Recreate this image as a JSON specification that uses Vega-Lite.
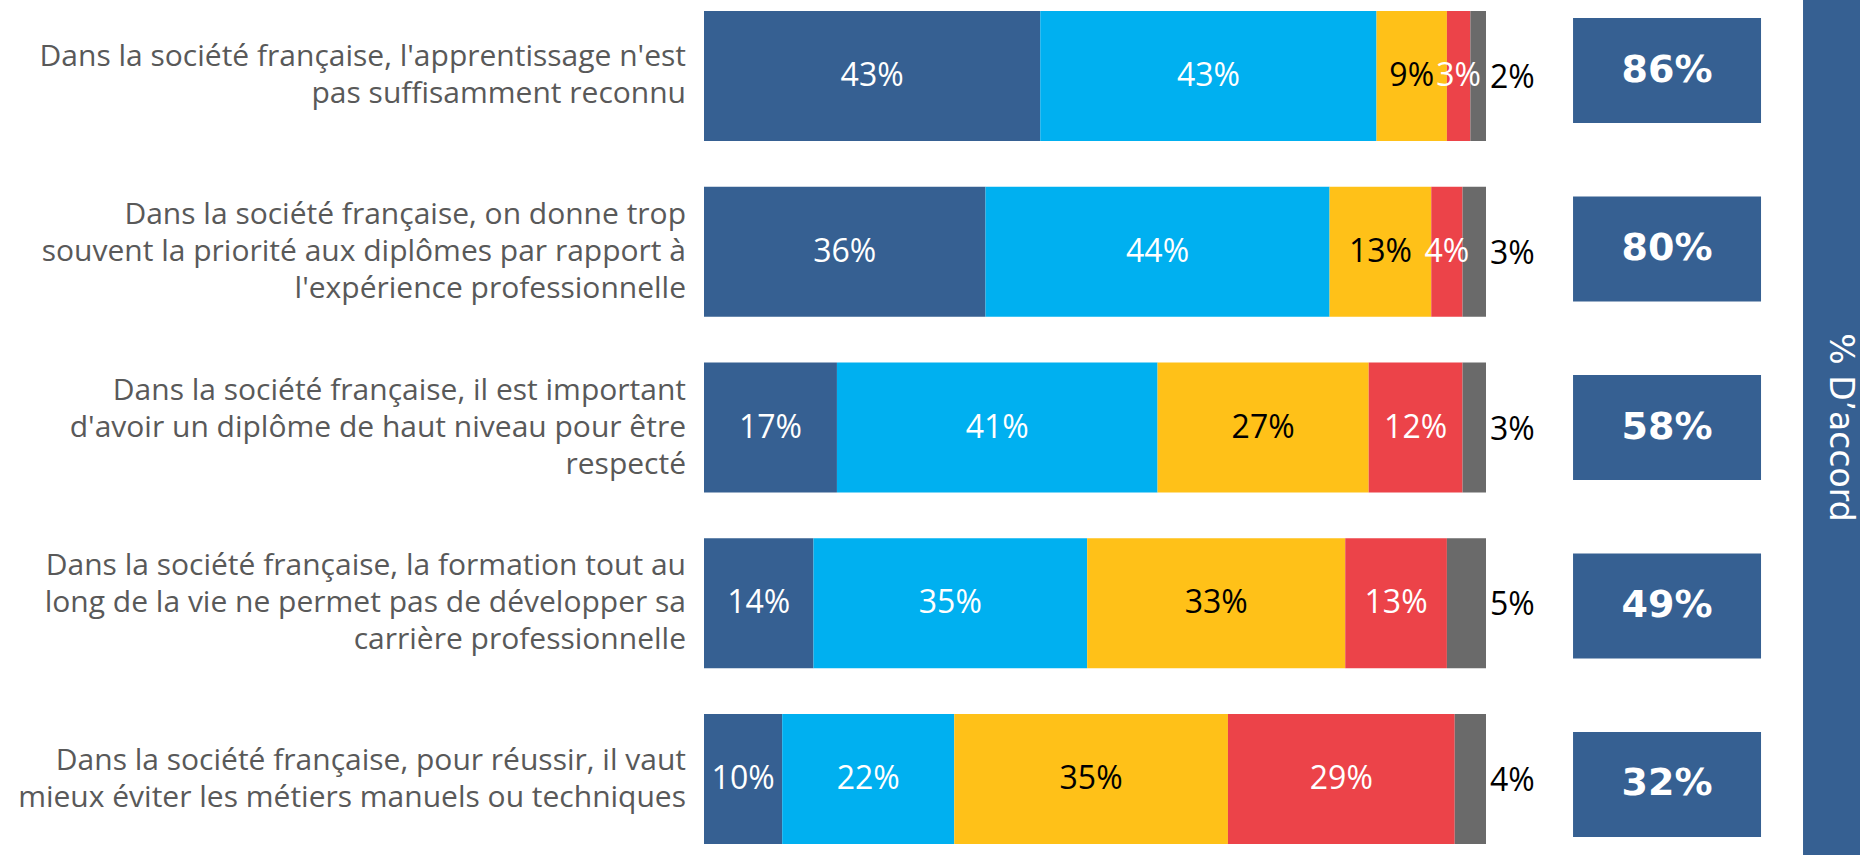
{
  "$schema": "https://vega.github.io/schema/vega-lite/v6.json",
  "width": 1860,
  "height": 855,
  "autosize": {"type": "fit", "contains": "padding"},
  "padding": 0,
  "background": "white",
  "config": {"view": {"stroke": null}},
  "datasets": {
    "seg": [
      {"id": 1, "q": "Dans la société française, l'apprentissage n'est\npas suffisamment reconnu", "cat": "Tout à fait d’accord", "o": 1, "v": 0.43},
      {"id": 1, "q": "Dans la société française, l'apprentissage n'est\npas suffisamment reconnu", "cat": "Plutôt d’accord", "o": 2, "v": 0.43},
      {"id": 1, "q": "Dans la société française, l'apprentissage n'est\npas suffisamment reconnu", "cat": "Plutôt pas d’accord", "o": 3, "v": 0.09},
      {"id": 1, "q": "Dans la société française, l'apprentissage n'est\npas suffisamment reconnu", "cat": "Pas du tout d’accord", "o": 4, "v": 0.03},
      {"id": 1, "q": "Dans la société française, l'apprentissage n'est\npas suffisamment reconnu", "cat": "Ne se prononce pas", "o": 5, "v": 0.02},
      {"id": 2, "q": "Dans la société française, on donne trop\nsouvent la priorité aux diplômes par rapport à\nl'expérience professionnelle", "cat": "Tout à fait d’accord", "o": 1, "v": 0.36},
      {"id": 2, "q": "Dans la société française, on donne trop\nsouvent la priorité aux diplômes par rapport à\nl'expérience professionnelle", "cat": "Plutôt d’accord", "o": 2, "v": 0.44},
      {"id": 2, "q": "Dans la société française, on donne trop\nsouvent la priorité aux diplômes par rapport à\nl'expérience professionnelle", "cat": "Plutôt pas d’accord", "o": 3, "v": 0.13},
      {"id": 2, "q": "Dans la société française, on donne trop\nsouvent la priorité aux diplômes par rapport à\nl'expérience professionnelle", "cat": "Pas du tout d’accord", "o": 4, "v": 0.04},
      {"id": 2, "q": "Dans la société française, on donne trop\nsouvent la priorité aux diplômes par rapport à\nl'expérience professionnelle", "cat": "Ne se prononce pas", "o": 5, "v": 0.03},
      {"id": 3, "q": "Dans la société française, il est important\nd'avoir un diplôme de haut niveau pour être\nrespecté", "cat": "Tout à fait d’accord", "o": 1, "v": 0.17},
      {"id": 3, "q": "Dans la société française, il est important\nd'avoir un diplôme de haut niveau pour être\nrespecté", "cat": "Plutôt d’accord", "o": 2, "v": 0.41},
      {"id": 3, "q": "Dans la société française, il est important\nd'avoir un diplôme de haut niveau pour être\nrespecté", "cat": "Plutôt pas d’accord", "o": 3, "v": 0.27},
      {"id": 3, "q": "Dans la société française, il est important\nd'avoir un diplôme de haut niveau pour être\nrespecté", "cat": "Pas du tout d’accord", "o": 4, "v": 0.12},
      {"id": 3, "q": "Dans la société française, il est important\nd'avoir un diplôme de haut niveau pour être\nrespecté", "cat": "Ne se prononce pas", "o": 5, "v": 0.03},
      {"id": 4, "q": "Dans la société française, la formation tout au\nlong de la vie ne permet pas de développer sa\ncarrière professionnelle", "cat": "Tout à fait d’accord", "o": 1, "v": 0.14},
      {"id": 4, "q": "Dans la société française, la formation tout au\nlong de la vie ne permet pas de développer sa\ncarrière professionnelle", "cat": "Plutôt d’accord", "o": 2, "v": 0.35},
      {"id": 4, "q": "Dans la société française, la formation tout au\nlong de la vie ne permet pas de développer sa\ncarrière professionnelle", "cat": "Plutôt pas d’accord", "o": 3, "v": 0.33},
      {"id": 4, "q": "Dans la société française, la formation tout au\nlong de la vie ne permet pas de développer sa\ncarrière professionnelle", "cat": "Pas du tout d’accord", "o": 4, "v": 0.13},
      {"id": 4, "q": "Dans la société française, la formation tout au\nlong de la vie ne permet pas de développer sa\ncarrière professionnelle", "cat": "Ne se prononce pas", "o": 5, "v": 0.05},
      {"id": 5, "q": "Dans la société française, pour réussir, il vaut\nmieux éviter les métiers manuels ou techniques", "cat": "Tout à fait d’accord", "o": 1, "v": 0.10},
      {"id": 5, "q": "Dans la société française, pour réussir, il vaut\nmieux éviter les métiers manuels ou techniques", "cat": "Plutôt d’accord", "o": 2, "v": 0.22},
      {"id": 5, "q": "Dans la société française, pour réussir, il vaut\nmieux éviter les métiers manuels ou techniques", "cat": "Plutôt pas d’accord", "o": 3, "v": 0.35},
      {"id": 5, "q": "Dans la société française, pour réussir, il vaut\nmieux éviter les métiers manuels ou techniques", "cat": "Pas du tout d’accord", "o": 4, "v": 0.29},
      {"id": 5, "q": "Dans la société française, pour réussir, il vaut\nmieux éviter les métiers manuels ou techniques", "cat": "Ne se prononce pas", "o": 5, "v": 0.04}
    ],
    "side": [{"t": "% D’accord"}]
  },
  "data": {"name": "seg"},
  "resolve": {"scale": {"y": "independent"}},
  "layer": [
    {
      "mark": {"type": "bar"},
      "encoding": {
        "y": {"field": "id", "type": "ordinal", "axis": null, "scale": {"type": "band", "domain": [1, 2, 3, 4, 5], "paddingInner": 0.261, "paddingOuter": 0.0625}},
        "x": {"field": "v", "type": "quantitative", "stack": "zero", "axis": null, "scale": {"domain": [-0.90026, 1.47826], "nice": false, "zero": false}},
        "color": {"field": "cat", "type": "nominal", "legend": null,
          "scale": {"domain": ["Tout à fait d’accord", "Plutôt d’accord", "Plutôt pas d’accord", "Pas du tout d’accord", "Ne se prononce pas"],
                    "range": ["#366092", "#00B0F0", "#FFC118", "#EC4349", "#6A6A6A"]}},
        "order": {"field": "o", "type": "quantitative"}
      }
    },
    {
      "transform": [
        {"filter": "datum.o < 5"},
        {"stack": "v", "groupby": ["id"], "sort": [{"field": "o"}], "as": ["x0", "x1"]},
        {"fold": ["x0", "x1"], "as": ["k", "xv"]}
      ],
      "mark": {"type": "text", "font": "Open Sans", "fontSize": 32, "baseline": "middle", "align": "center"},
      "encoding": {
        "y": {"field": "id", "type": "ordinal", "axis": null, "scale": {"type": "band", "domain": [1, 2, 3, 4, 5], "paddingInner": 0.261, "paddingOuter": 0.0625}},
        "x": {"aggregate": "mean", "field": "xv", "type": "quantitative", "axis": null, "scale": {"domain": [-0.90026, 1.47826], "nice": false, "zero": false}},
        "detail": {"field": "cat"},
        "text": {"field": "v", "type": "quantitative", "format": ".0%"},
        "color": {"condition": {"test": "datum.cat === 'Plutôt pas d’accord'", "value": "#000000"}, "value": "#FFFFFF"}
      }
    },
    {
      "transform": [
        {"stack": "v", "groupby": ["id"], "sort": [{"field": "o"}], "as": ["x0", "x1"]},
        {"filter": "datum.o == 5"}
      ],
      "mark": {"type": "text", "font": "Open Sans", "fontSize": 32, "baseline": "middle", "align": "left", "dx": 4, "dy": 2, "color": "#000000"},
      "encoding": {
        "y": {"field": "id", "type": "ordinal", "axis": null, "scale": {"type": "band", "domain": [1, 2, 3, 4, 5], "paddingInner": 0.261, "paddingOuter": 0.0625}},
        "x": {"field": "x1", "type": "quantitative", "axis": null, "scale": {"domain": [-0.90026, 1.47826], "nice": false, "zero": false}},
        "text": {"field": "v", "type": "quantitative", "format": ".0%"}
      }
    },
    {
      "transform": [{"filter": "datum.o == 1 && length(split(datum.q, '\\n')) == 2"}],
      "mark": {"type": "text", "font": "Open Sans", "fontSize": 30, "lineHeight": 37, "lineBreak": "\n", "baseline": "middle", "align": "right", "dy": -18.5, "color": "#595959"},
      "encoding": {
        "y": {"field": "id", "type": "ordinal", "axis": null, "scale": {"type": "band", "domain": [1, 2, 3, 4, 5], "paddingInner": 0.261, "paddingOuter": 0.0625}},
        "x": {"datum": -0.023, "type": "quantitative", "axis": null, "scale": {"domain": [-0.90026, 1.47826], "nice": false, "zero": false}},
        "text": {"field": "q", "type": "nominal"}
      }
    },
    {
      "transform": [{"filter": "datum.o == 1 && length(split(datum.q, '\\n')) == 3"}],
      "mark": {"type": "text", "font": "Open Sans", "fontSize": 30, "lineHeight": 37, "lineBreak": "\n", "baseline": "middle", "align": "right", "dy": -37, "color": "#595959"},
      "encoding": {
        "y": {"field": "id", "type": "ordinal", "axis": null, "scale": {"type": "band", "domain": [1, 2, 3, 4, 5], "paddingInner": 0.261, "paddingOuter": 0.0625}},
        "x": {"datum": -0.023, "type": "quantitative", "axis": null, "scale": {"domain": [-0.90026, 1.47826], "nice": false, "zero": false}},
        "text": {"field": "q", "type": "nominal"}
      }
    },
    {
      "transform": [
        {"filter": "datum.o <= 2"},
        {"aggregate": [{"op": "sum", "field": "v", "as": "tot"}], "groupby": ["id"]}
      ],
      "mark": {"type": "bar", "color": "#366092"},
      "encoding": {
        "y": {"field": "id", "type": "ordinal", "axis": null, "scale": {"type": "band", "domain": [1, 2, 3, 4, 5], "paddingInner": 0.412, "paddingOuter": 0.101}},
        "x": {"datum": 1.1113, "type": "quantitative", "axis": null, "scale": {"domain": [-0.90026, 1.47826], "nice": false, "zero": false}},
        "x2": {"datum": 1.3517}
      }
    },
    {
      "transform": [
        {"filter": "datum.o <= 2"},
        {"aggregate": [{"op": "sum", "field": "v", "as": "tot"}], "groupby": ["id"]}
      ],
      "mark": {"type": "text", "font": "DejaVu Sans", "fontWeight": "bold", "fontSize": 38, "baseline": "middle", "align": "center", "color": "#FFFFFF"},
      "encoding": {
        "y": {"field": "id", "type": "ordinal", "axis": null, "scale": {"type": "band", "domain": [1, 2, 3, 4, 5], "paddingInner": 0.412, "paddingOuter": 0.101}},
        "x": {"datum": 1.2315, "type": "quantitative", "axis": null, "scale": {"domain": [-0.90026, 1.47826], "nice": false, "zero": false}},
        "text": {"field": "tot", "type": "quantitative", "format": ".0%"}
      }
    },
    {
      "data": {"name": "side"},
      "mark": {"type": "rect", "color": "#366092"},
      "encoding": {
        "x": {"datum": 1.4054, "type": "quantitative", "axis": null, "scale": {"domain": [-0.90026, 1.47826], "nice": false, "zero": false}},
        "x2": {"datum": 1.47826}
      }
    },
    {
      "data": {"name": "side"},
      "mark": {"type": "text", "font": "DejaVu Sans", "fontSize": 33, "angle": 90, "baseline": "middle", "align": "center", "color": "#FFFFFF"},
      "encoding": {
        "x": {"datum": 1.4527, "type": "quantitative", "axis": null, "scale": {"domain": [-0.90026, 1.47826], "nice": false, "zero": false}},
        "text": {"field": "t", "type": "nominal"}
      }
    }
  ]
}
